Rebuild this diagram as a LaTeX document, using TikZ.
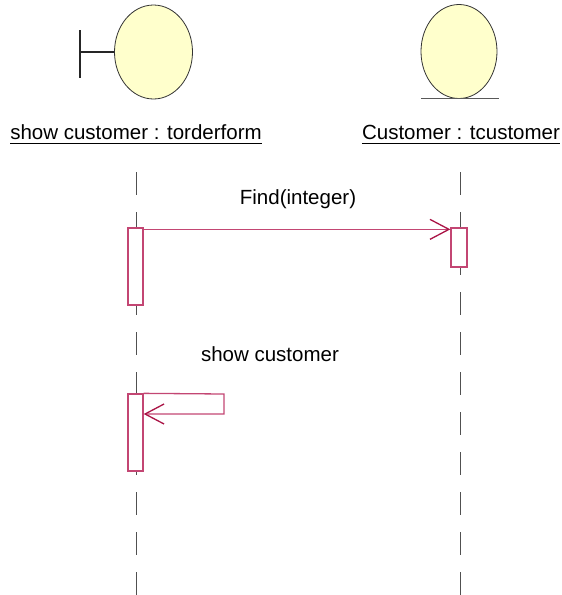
\documentclass[tikz,border=0pt]{standalone}
\usepackage{fontspec}
\setmainfont{Liberation Sans}
\usetikzlibrary{arrows.meta,shapes.geometric}
\definecolor{fillyel}{RGB}{255,255,204}
\definecolor{actcol}{RGB}{195,70,115}
\definecolor{msgcol}{RGB}{170,20,70}
\definecolor{lifecol}{RGB}{80,80,80}
\tikzset{
  objshape/.style={draw=black!80, fill=fillyel, line width=0.8pt, ellipse, inner sep=0pt},
  objlabel/.style={anchor=base, inner sep=0pt, font=\fontsize{20.5}{24}\selectfont},
  uline/.style={draw=black, line width=1pt},
  lifeline/.style={draw=lifecol, line width=1pt, dash pattern=on 23pt off 17pt},
  actbox/.style={draw=actcol, fill=white, line width=1.3pt, rectangle, inner sep=0pt},
  msg/.style={draw=actcol, line width=1.3pt, -{Straight Barb[length=19pt,width=20pt,line width=1.3pt,color=msgcol]}},
  msglabel/.style={inner sep=0pt, font=\fontsize{20.5}{24}\selectfont},
}
\begin{document}
\begin{tikzpicture}[x=1pt, y=-1pt]
\useasboundingbox (0,0) rectangle (562,595);
% boundary object
\node[objshape, minimum width=78pt, minimum height=94pt] (b) at (153.5,52) {};
\coordinate (bt) at (80,30);
\coordinate (bb) at (80,78);
\coordinate (bm) at (80,52);
\draw[black!85, line width=1.2pt] (bt) -- (bb);
\draw[black!85, line width=1.2pt] (bm) -- (b.west);
% entity object
\node[objshape, minimum width=76pt, minimum height=94pt] (e) at (459,51.5) {};
\coordinate (ul) at (421,98.5);
\coordinate (ur) at (499,98.5);
\draw[black!65, line width=1.2pt] (ul) -- (ur);
% labels
\node[objlabel] (lb) at (136,139) {show customer : torderform};
\node[objlabel] (le) at (461,139) {Customer : tcustomer};
\draw[uline] ([yshift=-4pt]lb.base west) -- ([yshift=-4pt]lb.base east);
\draw[uline] ([yshift=-4pt]le.base west) -- ([yshift=-4pt]le.base east);
% lifelines
\coordinate (l1t) at (136,172);
\coordinate (l1b) at (136,595);
\coordinate (l2t) at (460,172);
\coordinate (l2b) at (460,595);
\draw[lifeline] (l1t) -- (l1b);
\draw[lifeline] (l2t) -- (l2b);
% activations
\node[actbox, minimum width=15pt, minimum height=77pt] (a1) at (135.5,266.5) {};
\node[actbox, minimum width=15pt, minimum height=77pt] (a2) at (135.5,432.5) {};
\node[actbox, minimum width=16pt, minimum height=39pt] (a3) at (459,247.5) {};
% message 1
\draw[msg] ([yshift=-2pt]a1.north east) -- ([yshift=-2pt]a3.north west);
\node[msglabel] (m1) at (298,199) {Find(integer)};
% self message
\coordinate (s1) at (224,394);
\coordinate (s2) at (224,414);
\draw[msg] (a2.north east) -- (s1) -- (s2) -- (a2.east |- s2);
\node[msglabel] (m2) at (270,354) {show customer};
\end{tikzpicture}
\end{document}
